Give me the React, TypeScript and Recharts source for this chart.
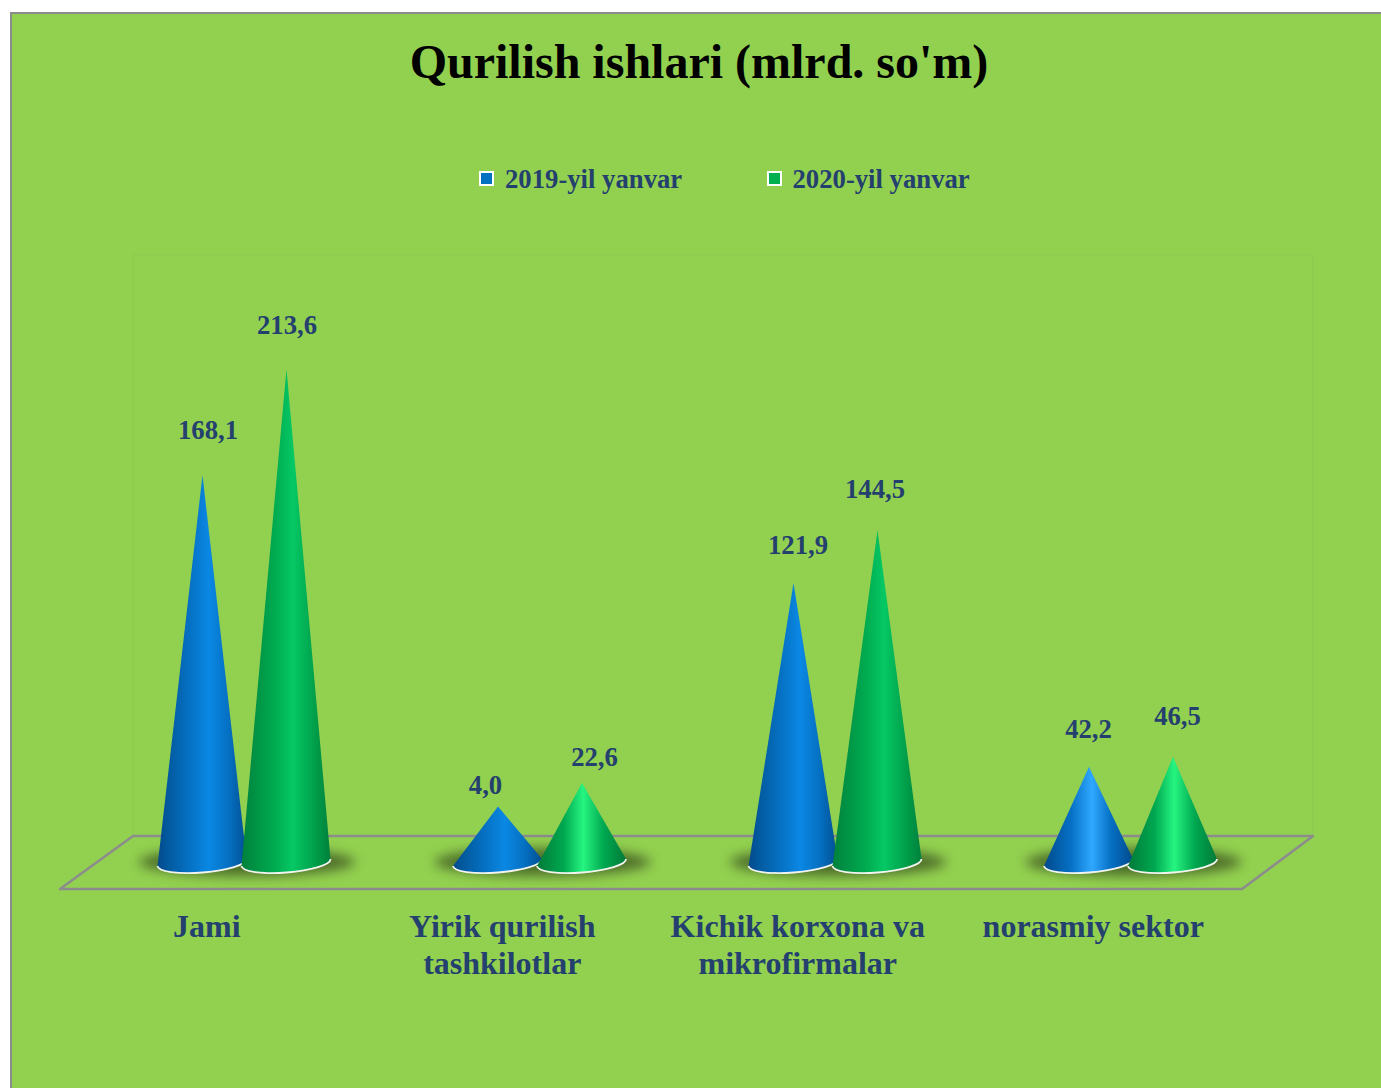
import React from 'react';
import { BarChart, Bar, XAxis, YAxis, Legend, LabelList } from 'recharts';

const FONT = '"Liberation Serif", "Times New Roman", serif';
const TEXT_COLOR = '#24406e';

const categories = ['Jami', 'Yirik qurilish\ntashkilotlar', 'Kichik korxona va\nmikrofirmalar', 'norasmiy sektor'];

// Cone heights as they appear in the picture. The two small ones in the second
// group are drawn much taller than their printed labels (4,0 and 22,6) say.
const heights2019 = [168.1, 26, 121.9, 43];
const heights2020 = [213.6, 36, 144.5, 47.3];

const labels2019 = ['168,1', '4,0', '121,9', '42,2'];
const labels2020 = ['213,6', '22,6', '144,5', '46,5'];

// The labels were placed by hand in the original
const labelShift2019 = [[6, 45], [-12, 21], [5, 38], [0, 38]];
const labelShift2020 = [[1, 44], [13, 26], [-2, 41], [5, 41]];

const data = categories.map((name, i) => ({
  name,
  v2019: heights2019[i],
  v2020: heights2020[i],
  l2019: labels2019[i],
  l2020: labels2020[i],
}));

// Cones with the stronger highlight down the middle
const brightBlue = [3];
const brightGreen = [1, 3];

const Cone = ({ x, y, width, height, index, series }: any) => {
  const cx = x + width / 2;
  const bottom = y + height;
  const halfBase = 44.5;
  const left = cx - halfBase;
  const right = cx + halfBase;
  const bright = series === 'blue' ? brightBlue.includes(index) : brightGreen.includes(index);
  const fill = `url(#${series}${bright ? 'Bright' : ''})`;
  const arc = `M${left},${bottom - 1} A${halfBase},10 -4.5 0 0 ${right},${bottom - 8}`;
  return (
    <g>
      {/* the blue cone carries the shadow of the pair so it stays under both cones */}
      {series === 'blue' && (
        <ellipse cx={cx + 45} cy={bottom - 5} rx={108} ry={14} fill="#466426" opacity={0.9} filter="url(#coneShadow)" />
      )}
      <path d={`${arc} L${cx + 0.5},${y} Z`} fill={fill} />
      <path d={arc} fill="none" stroke="#f2f4f0" strokeWidth={1.8} />
    </g>
  );
};

const CategoryTick = ({ x, y, payload }: any) => {
  const lines = String(payload.value).split('\n');
  return (
    <text x={x - 37} y={y + 70} textAnchor="middle" fontFamily={FONT} fontWeight="bold" fontSize={32} fill={TEXT_COLOR}>
      {lines.map((line, i) => (
        <tspan key={line} x={x - 37} dy={i === 0 ? 0 : 37}>
          {line}
        </tspan>
      ))}
    </text>
  );
};

const valueLabel = (shifts: number[][]) => (props: any) => {
  const { x, y, width, value, index } = props;
  const [dx, rise] = shifts[index];
  return (
    <text
      x={x + width / 2 + dx}
      y={y - rise + 9}
      textAnchor="middle"
      fontFamily={FONT}
      fontWeight="bold"
      fontSize={26.7}
      fill={TEXT_COLOR}
    >
      {value}
    </text>
  );
};

const LegendRow = ({ payload }: any) => (
  <div style={{ position: 'relative', height: 30, fontFamily: FONT, fontWeight: 'bold', fontSize: 26.7, color: TEXT_COLOR }}>
    {(payload || []).map((entry: any, i: number) => (
      <div key={entry.value} style={{ position: 'absolute', left: i * 287.5, top: 0, whiteSpace: 'nowrap', lineHeight: '30px' }}>
        <span
          style={{
            position: 'absolute',
            left: 0,
            top: 7,
            boxSizing: 'border-box',
            width: 15,
            height: 15,
            border: '2px solid #ffffff',
            background: entry.color,
          }}
        />
        <span style={{ marginLeft: 26 }}>{entry.value}</span>
      </div>
    ))}
  </div>
);

export default function App() {
  return (
    <div
      style={{
        position: 'fixed',
        left: 10,
        top: 12,
        width: 1371,
        height: 1076,
        background: '#92d050',
        borderLeft: '2px solid #8c8c8c',
        borderTop: '2px solid #8c8c8c',
        boxSizing: 'border-box',
      }}
    >
      <div style={{ position: 'absolute', left: -2, top: -2 }}>
        <BarChart
          width={1371}
          height={1076}
          data={data}
          barGap={0}
          barSize={84}
          margin={{ top: 242.5, right: 103, bottom: 141, left: 86 }}
        >
          <defs>
            <linearGradient id="blue" x1="0" y1="0" x2="1" y2="0">
              <stop offset="0" stopColor="#024a8c" />
              <stop offset="0.12" stopColor="#035a9f" />
              <stop offset="0.35" stopColor="#0570c2" />
              <stop offset="0.58" stopColor="#0a88e4" />
              <stop offset="0.8" stopColor="#0570c2" />
              <stop offset="1" stopColor="#024f92" />
            </linearGradient>
            <linearGradient id="blueBright" x1="0" y1="0" x2="1" y2="0">
              <stop offset="0" stopColor="#024a8c" />
              <stop offset="0.3" stopColor="#0570c4" />
              <stop offset="0.54" stopColor="#2fa8ff" />
              <stop offset="0.75" stopColor="#0570c4" />
              <stop offset="1" stopColor="#024a8c" />
            </linearGradient>
            <linearGradient id="green" x1="0" y1="0" x2="1" y2="0">
              <stop offset="0" stopColor="#00803c" />
              <stop offset="0.15" stopColor="#009244" />
              <stop offset="0.35" stopColor="#00a84e" />
              <stop offset="0.58" stopColor="#05c864" />
              <stop offset="0.82" stopColor="#00a04a" />
              <stop offset="1" stopColor="#00803c" />
            </linearGradient>
            <linearGradient id="greenBright" x1="0" y1="0" x2="1" y2="0">
              <stop offset="0" stopColor="#007a38" />
              <stop offset="0.3" stopColor="#00a850" />
              <stop offset="0.52" stopColor="#26f580" />
              <stop offset="0.75" stopColor="#00a850" />
              <stop offset="1" stopColor="#007a38" />
            </linearGradient>
            <filter id="coneShadow" x="-30%" y="-150%" width="160%" height="400%">
              <feGaussianBlur stdDeviation="6" />
            </filter>
          </defs>

          <text x={689} y={66} textAnchor="middle" fontFamily={FONT} fontWeight="bold" fontSize={48} fill="#000000">
            Qurilish ishlari (mlrd. so'm)
          </text>

          {/* back wall and floor of the 3D box */}
          <rect x={123} y={243} width={1180} height={581} fill="none" stroke="#8ac94e" strokeWidth={1} />
          <polygon points="123,824 1303,824 1232,877 50,877" fill="none" stroke="#8c8c8c" strokeWidth={2.5} strokeLinejoin="round" />

          <XAxis
            dataKey="name"
            interval={0}
            axisLine={false}
            tickLine={false}
            tickSize={0}
            tickMargin={0}
            height={80}
            tick={<CategoryTick />}
          />
          <YAxis hide domain={[0, 250]} />
          <Legend
            verticalAlign="top"
            content={<LegendRow />}
            wrapperStyle={{ left: 469, top: 152, width: 520 }}
          />
          <Bar dataKey="v2019" name="2019-yil yanvar" fill="#0070c0" isAnimationActive={false} shape={(p: any) => <Cone {...p} series="blue" />}>
            <LabelList dataKey="l2019" content={valueLabel(labelShift2019)} />
          </Bar>
          <Bar dataKey="v2020" name="2020-yil yanvar" fill="#00b050" isAnimationActive={false} shape={(p: any) => <Cone {...p} series="green" />}>
            <LabelList dataKey="l2020" content={valueLabel(labelShift2020)} />
          </Bar>
        </BarChart>
      </div>
    </div>
  );
}
